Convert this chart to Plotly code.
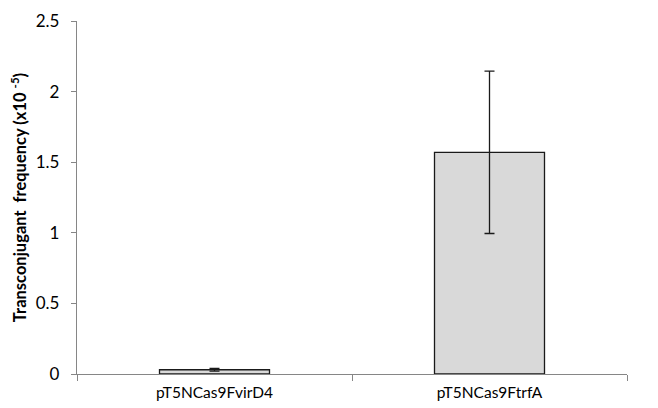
import plotly.graph_objects as go

categories = ["pT5NCas9FvirD4", "pT5NCas9FtrfA"]
values = [0.03, 1.57]
errors = [0.01, 0.575]
y_ticks = [0, 0.5, 1, 1.5, 2, 2.5]
y_tick_labels = ["0", "0.5", "1", "1.5", "2", "2.5"]

fig = go.Figure()
fig.add_trace(go.Bar(
    x=categories, y=values,
    width=0.4,
    marker=dict(color="#d9d9d9", line=dict(color="#1a1a1a", width=1.3)),
    error_y=dict(type="data", array=errors, visible=True, color="#1a1a1a", thickness=1.3, width=5),
))

fig.update_layout(
    width=650, height=400,
    margin=dict(l=69, r=31, t=13, b=34),
    plot_bgcolor="white", paper_bgcolor="white",
    font=dict(family="Lato, Open Sans, sans-serif", size=15, color="#000000"),
    showlegend=False,
)
fig.update_xaxes(
    automargin=False,
    showline=True, linecolor="#868686", linewidth=1.3,
    ticks="outside", tickson="boundaries", ticklen=6, tickcolor="#868686",
    tickfont=dict(size=15.5), ticklabelstandoff=4, showgrid=False,
)
fig.update_yaxes(
    automargin=False,
    range=[0, 2.5], tickvals=y_ticks, ticktext=y_tick_labels,
    showline=True, linecolor="#868686", linewidth=1.3,
    ticks="outside", ticklen=5, tickcolor="#868686",
    showgrid=False, zeroline=False,
    tickfont=dict(size=17), ticklabelstandoff=8,
    title=dict(text="<b>Transconjugant\u00a0\u00a0frequency (x10 <sup>-5</sup>)</b>", font=dict(size=16.5), standoff=6),
)

fig.write_html("out.html")
